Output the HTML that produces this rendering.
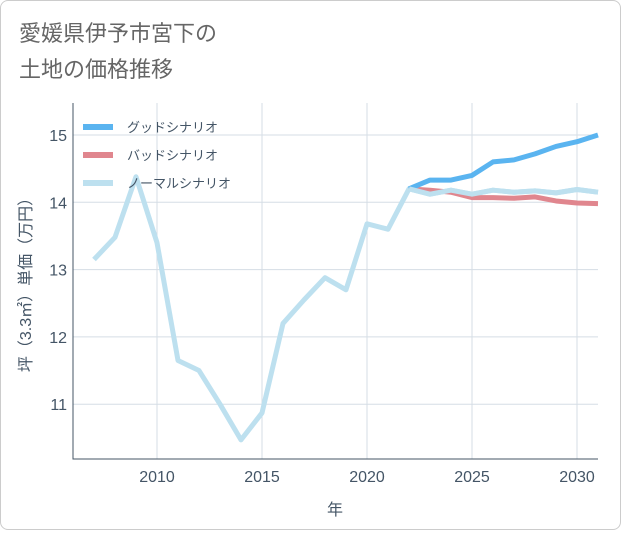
<!DOCTYPE html>
<html><head><meta charset="utf-8"><style>
body{margin:0;background:#fff;font-family:"Liberation Sans","Noto Sans CJK JP",sans-serif;}
#card{position:absolute;left:0;top:0;width:619px;height:528px;border:1px solid #ccc;border-radius:8px;background:#fff;}
</style></head><body>
<div id="card">
<svg id="chart" width="621" height="530">
<text x="18" y="40" font-size="22" fill="#666">愛媛県伊予市宮下の</text>
<text x="18" y="76" font-size="22" fill="#666">土地の価格推移</text>
<g id="grid"></g><g id="axes"></g><g id="series"></g><g id="legend"></g>
</svg></div>
<script>
const years=[2007,2008,2009,2010,2011,2012,2013,2014,2015,2016,2017,2018,2019,2020,2021,2022,2023,2024,2025,2026,2027,2028,2029,2030,2031];
const normal=[13.15,13.48,14.38,13.4,11.65,11.5,11.0,10.47,10.87,12.2,12.55,12.88,12.7,13.68,13.6,14.2,14.12,14.18,14.12,14.18,14.15,14.17,14.14,14.19,14.15];
const goodYears=[2022,2023,2024,2025,2026,2027,2028,2029,2030,2031];
const good=[14.2,14.33,14.33,14.4,14.6,14.63,14.72,14.83,14.9,15.0];
const bad=[14.2,14.18,14.15,14.07,14.07,14.06,14.08,14.02,13.99,13.98];
const xTicks=[2010,2015,2020,2025,2030];
const yTicks=[11,12,13,14,15];
const ns="http://www.w3.org/2000/svg";
const X=v=>156+(v-2010)*21;
const Y=v=>134+(15-v)*67.3;
function mk(t,a,p){const e=document.createElementNS(ns,t);for(const k in a)e.setAttribute(k,a[k]);p.appendChild(e);return e;}
const grid=document.getElementById('grid'),axes=document.getElementById('axes'),series=document.getElementById('series'),legend=document.getElementById('legend');
mk('rect',{x:72,y:102,width:525,height:356,fill:'#fff'},grid);
xTicks.forEach(t=>{const l=mk('line',{x1:X(t),x2:X(t),y1:102,y2:458,stroke:'#d5dde5'},grid);

const tx=mk('text',{x:X(t),y:481,'font-size':16,fill:'#456','text-anchor':'middle'},axes);tx.textContent=t;
});
yTicks.forEach(t=>{const l=mk('line',{x1:72,x2:597,y1:Y(t),y2:Y(t),stroke:'#d5dde5'},grid);

const tx=mk('text',{x:66,y:Y(t)+6,'font-size':16,fill:'#456','text-anchor':'end'},axes);tx.textContent=t;
});
const ax=mk('path',{d:'M72 102V458H597',fill:'none',stroke:'#456'},axes);

const xt=mk('text',{x:334,y:514,'font-size':16,fill:'#456','text-anchor':'middle'},axes);xt.textContent='年';

const yt=mk('text',{x:0,y:0,'font-size':16,fill:'#456','text-anchor':'middle',transform:'translate(30,280) rotate(-90)'},axes);yt.textContent='坪（3.3㎡）単価（万円）';

function line(xs,vs,c,n){const d=vs.map((v,i)=>(i?'L':'M')+X(xs[i])+' '+Y(v)).join('');
const p=mk('path',{d,fill:'none',stroke:c,'stroke-width':5,'stroke-linejoin':'round'},series);
}
line(years,normal,'#bde0ef','normal-scenario-line');
line(goodYears,bad,'#e0868e','bad-scenario-line');
line(goodYears,good,'#5ab4f0','good-scenario-line');
line(years.slice(15),normal.slice(15),'#bde0ef','normal-scenario-forecast');
[['グッドシナリオ','#5ab4f0','legend-good'],['バッドシナリオ','#e0868e','legend-bad'],['ノーマルシナリオ','#bde0ef','legend-normal']].forEach((e,i)=>{
const g=mk('g',{},legend);
mk('rect',{x:82,y:123+i*28,width:30,height:6,fill:e[1]},g);
const t=mk('text',{x:126,y:131+i*28,'font-size':13,fill:'#445566'},g);t.textContent=e[0];});
</script>
</body></html>
